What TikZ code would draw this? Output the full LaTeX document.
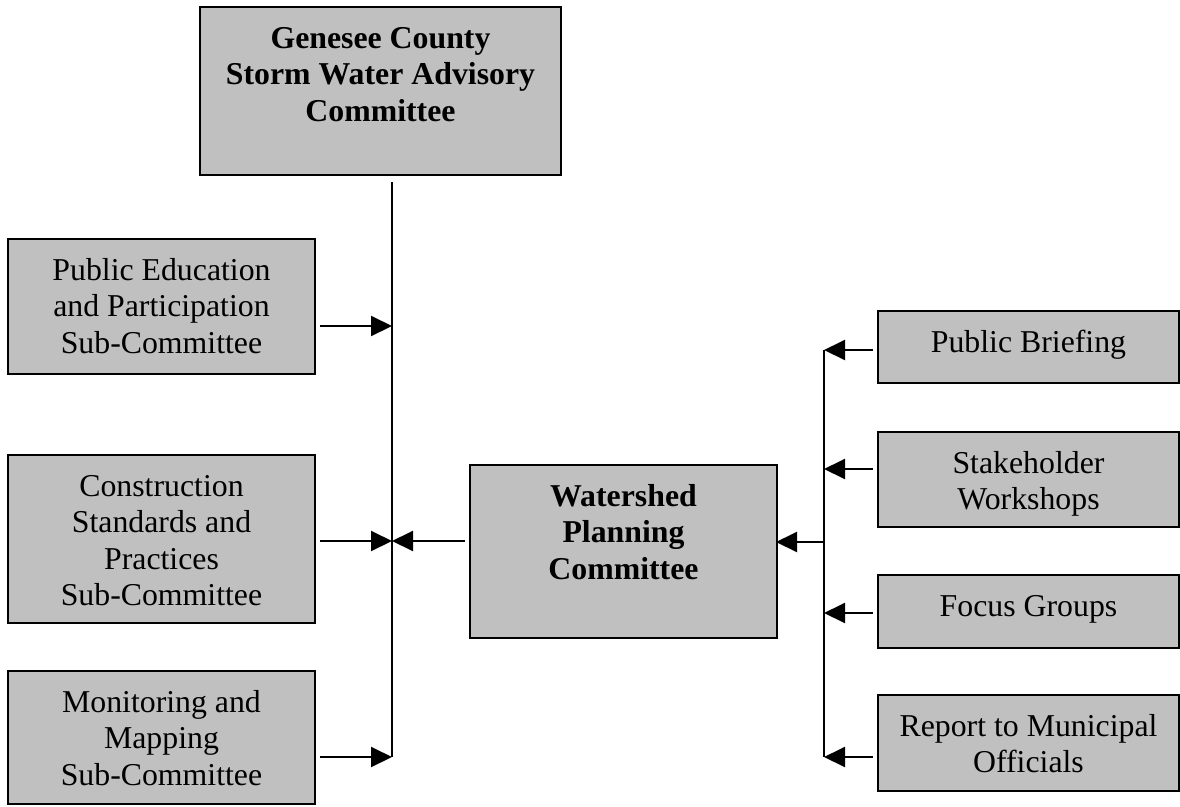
\documentclass[tikz,border=0pt]{standalone}
\usepackage{fontspec}
\setmainfont{Liberation Serif}
\usetikzlibrary{arrows.meta}
\definecolor{boxgray}{HTML}{C0C0C0}
\begin{document}
\begin{tikzpicture}[x=1pt,y=-1pt,
  box/.style={draw=black, line width=1.8pt, fill=boxgray, inner sep=0pt, outer sep=0pt},
  txt/.style={align=center, inner sep=0pt, anchor=north, font=\fontsize{31.8}{36.5}\selectfont},
  btxt/.style={txt, font=\fontsize{31.8}{36.5}\selectfont\bfseries},
  conn/.style={line width=2pt},
  arr/.style={conn, -{Triangle[length=21pt,width=20pt]}}]
\useasboundingbox (0,0) rectangle (1180,806);

% boxes
\node[box, minimum width=361, minimum height=168] (top) at (380.5,91) {};
\node[box, minimum width=307, minimum height=135] (pe) at (161.5,306.5) {};
\node[box, minimum width=307, minimum height=168] (cs) at (161.5,539) {};
\node[box, minimum width=307, minimum height=133] (mm) at (161.5,737.5) {};
\node[box, minimum width=307, minimum height=173] (wp) at (623.5,551.5) {};
\node[box, minimum width=301, minimum height=72] (pb) at (1028.5,347) {};
\node[box, minimum width=301, minimum height=95] (sw) at (1028.5,479.5) {};
\node[box, minimum width=301, minimum height=73] (fg) at (1028.5,611.5) {};
\node[box, minimum width=301, minimum height=96] (rm) at (1028.5,743) {};

% texts
\node[btxt] (topT) at ([yshift=-15.5pt]top.north) {\strut Genesee County\\Storm Water Advisory\\Committee};
\node[txt] (peT) at ([yshift=-15.5pt]pe.north) {\strut Public Education\\and Participation\\Sub-Committee};
\node[txt] (csT) at ([yshift=-15.5pt]cs.north) {\strut Construction\\Standards and\\Practices\\Sub-Committee};
\node[txt] (mmT) at ([yshift=-15.5pt]mm.north) {\strut Monitoring and\\Mapping\\Sub-Committee};
\node[btxt] (wpT) at ([yshift=-15.5pt]wp.north) {\strut Watershed\\Planning\\Committee};
\node[txt] (pbT) at ([yshift=-15.5pt]pb.north) {\strut Public Briefing};
\node[txt] (swT) at ([yshift=-15.5pt]sw.north) {\strut Stakeholder\\Workshops};
\node[txt] (fgT) at ([yshift=-15.5pt]fg.north) {\strut Focus Groups};
\node[txt] (rmT) at ([yshift=-15.5pt]rm.north) {\strut Report to Municipal\\Officials};

% left trunk
\coordinate (Ltop) at (392,182);
\coordinate (L1) at (392,326);
\coordinate (L2) at (392,541);
\coordinate (Lbot) at (392,757);
\draw[conn] (Ltop) -- (Lbot);
\draw[arr, shorten <=5pt] (pe.east |- L1) -- (L1);
\draw[arr, shorten <=5pt] (cs.east |- L2) -- (L2);
\draw[arr, shorten <=5pt] (mm.east |- Lbot) -- (Lbot);
\draw[arr, shorten <=5pt] (wp.west |- L2) -- (L2);

% right trunk
\coordinate (R1) at (824,350);
\coordinate (R2) at (824,469);
\coordinate (R3) at (824,542);
\coordinate (R4) at (824,613);
\coordinate (R5) at (824,757);
\draw[conn] (R1) -- (R5);
\draw[arr, shorten <=5pt] (pb.west |- R1) -- (R1);
\draw[arr, shorten <=5pt] (sw.west |- R2) -- (R2);
\draw[arr, shorten >=-1pt] (R3) -- (wp.east |- R3);
\draw[arr, shorten <=5pt] (fg.west |- R4) -- (R4);
\draw[arr, shorten <=5pt] (rm.west |- R5) -- (R5);
\end{tikzpicture}
\end{document}
